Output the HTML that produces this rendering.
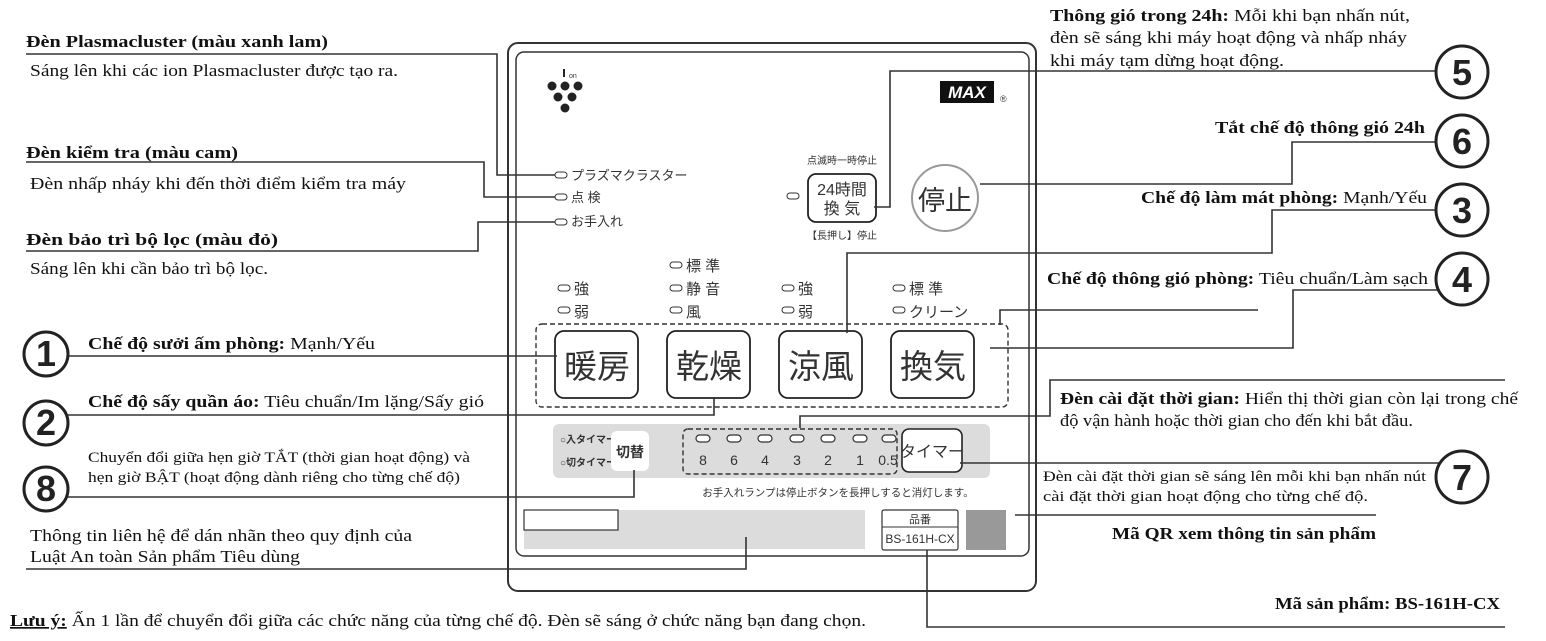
<!DOCTYPE html>
<html><head><meta charset="utf-8"><style>
html,body{margin:0;padding:0;background:#fff;}
svg{display:block;}
.t{font-family:"Liberation Serif","Noto Serif CJK SC",serif;font-size:17px;fill:#111;}
.b{font-weight:bold;}
.j{font-family:"Liberation Sans","Noto Sans CJK JP",sans-serif;fill:#333;}
.n{font-family:"Liberation Sans",sans-serif;font-weight:bold;font-size:36px;fill:#222;text-anchor:middle;}
</style></head><body>
<svg width="1546" height="641" viewBox="0 0 1546 641" xmlns="http://www.w3.org/2000/svg">
<rect x="508" y="43" width="528" height="548" rx="10" fill="#fff" stroke="#333" stroke-width="2"/>
<rect x="516" y="52" width="513" height="504" rx="8" fill="#fff" stroke="#333" stroke-width="1.5"/>
<g fill="#222"><circle cx="552" cy="86" r="4.5"/><circle cx="565" cy="86" r="4.5"/><circle cx="578" cy="86" r="4.5"/><circle cx="558" cy="97" r="4.5"/><circle cx="572" cy="97" r="4.5"/><circle cx="565" cy="108" r="4.5"/><rect x="563" y="69" width="2" height="8"/></g>
<text x="569" y="78" class="j" font-size="7">on</text>
<rect x="940" y="81" width="54" height="22" fill="#111"/>
<text x="967" y="98" font-family="Liberation Sans" font-weight="bold" font-style="italic" font-size="17" fill="#fff" text-anchor="middle">MAX</text>
<text x="1000" y="102" class="j" font-size="9">®</text>
<g fill="#fff" stroke="#333" stroke-width="1">
<rect x="555" y="172" width="12" height="6" rx="3"/><rect x="555" y="194" width="12" height="6" rx="3"/><rect x="555" y="219" width="12" height="6" rx="3"/>
<rect x="787" y="193" width="12" height="6" rx="3"/>
<rect x="558" y="285" width="12" height="6" rx="3"/><rect x="558" y="307" width="12" height="6" rx="3"/>
<rect x="670" y="262" width="12" height="6" rx="3"/><rect x="670" y="285" width="12" height="6" rx="3"/><rect x="670" y="307" width="12" height="6" rx="3"/>
<rect x="782" y="285" width="12" height="6" rx="3"/><rect x="782" y="307" width="12" height="6" rx="3"/>
<rect x="893" y="285" width="12" height="6" rx="3"/><rect x="893" y="307" width="12" height="6" rx="3"/>
</g>
<g class="j" font-size="13">
<text x="571" y="180">プラズマクラスター</text><text x="571" y="202">点 検</text><text x="571" y="226">お手入れ</text>
<text x="574" y="294" font-size="15">強</text><text x="574" y="317" font-size="15">弱</text>
<text x="686" y="271" font-size="15">標 準</text><text x="686" y="294" font-size="15">静 音</text><text x="686" y="317" font-size="15">風</text>
<text x="798" y="294" font-size="15">強</text><text x="798" y="317" font-size="15">弱</text>
<text x="909" y="294" font-size="15">標 準</text><text x="909" y="317" font-size="15">クリーン</text>
</g>
<text x="842" y="164" class="j" font-size="10" text-anchor="middle">点滅時一時停止</text>
<rect x="808" y="174" width="68" height="48" rx="8" fill="#fff" stroke="#222" stroke-width="1.8"/>
<text x="842" y="195" class="j" font-size="16" text-anchor="middle">24時間</text>
<text x="842" y="214" class="j" font-size="16" text-anchor="middle">換 気</text>
<text x="842" y="239" class="j" font-size="10" text-anchor="middle">【長押し】停止</text>
<circle cx="945" cy="198" r="33" fill="#fff" stroke="#999" stroke-width="2"/>
<text x="945" y="210" class="j" font-size="27" text-anchor="middle">停止</text>
<rect x="536" y="324" width="472" height="83" rx="6" fill="none" stroke="#333" stroke-width="1.4" stroke-dasharray="5,3"/>
<g fill="#fff" stroke="#222" stroke-width="1.8">
<rect x="555" y="331" width="83" height="67" rx="9"/><rect x="667" y="331" width="83" height="67" rx="9"/><rect x="779" y="331" width="83" height="67" rx="9"/><rect x="891" y="331" width="83" height="67" rx="9"/>
</g>
<g class="j" font-size="33" text-anchor="middle">
<text x="597" y="378">暖房</text><text x="709" y="378">乾燥</text><text x="821" y="378">涼風</text><text x="933" y="378">換気</text>
</g>
<rect x="553" y="424" width="437" height="54" rx="6" fill="#dcdcdc"/>
<text x="560" y="443" class="j" font-size="10" font-weight="bold">○入タイマー</text>
<text x="560" y="466" class="j" font-size="10" font-weight="bold">○切タイマー</text>
<rect x="611" y="431" width="38" height="40" rx="6" fill="#fff"/>
<text x="630" y="457" class="j" font-size="14" font-weight="bold" text-anchor="middle">切替</text>
<rect x="683" y="429" width="214" height="45" rx="5" fill="none" stroke="#333" stroke-width="1.4" stroke-dasharray="5,3"/>
<g fill="#fff" stroke="#333" stroke-width="1.2">
<rect x="696" y="435" width="14" height="7" rx="3.5"/><rect x="727" y="435" width="14" height="7" rx="3.5"/><rect x="758" y="435" width="14" height="7" rx="3.5"/><rect x="790" y="435" width="14" height="7" rx="3.5"/><rect x="821" y="435" width="14" height="7" rx="3.5"/><rect x="853" y="435" width="14" height="7" rx="3.5"/><rect x="882" y="435" width="14" height="7" rx="3.5"/>
</g>
<g class="j" font-size="14" text-anchor="middle">
<text x="703" y="465">8</text><text x="734" y="465">6</text><text x="765" y="465">4</text><text x="797" y="465">3</text><text x="828" y="465">2</text><text x="860" y="465">1</text><text x="888" y="465">0.5</text>
</g>
<rect x="902" y="429" width="60" height="43" rx="7" fill="#fff" stroke="#222" stroke-width="1.6"/>
<text x="932" y="457" class="j" font-size="16" text-anchor="middle">タイマー</text>
<text x="838" y="496" class="j" font-size="10.5" text-anchor="middle">お手入れランプは停止ボタンを長押しすると消灯します。</text>
<rect x="524" y="510" width="341" height="39" fill="#dcdcdc"/>
<rect x="524" y="510" width="94" height="20" fill="#fff" stroke="#333" stroke-width="1.2"/>
<rect x="882" y="510" width="76" height="40" rx="2" fill="#fff" stroke="#333" stroke-width="1.2"/>
<line x1="882" y1="527" x2="958" y2="527" stroke="#333"/>
<text x="920" y="523" class="j" font-size="11" text-anchor="middle">品番</text>
<text x="920" y="543" class="j" font-size="12" text-anchor="middle">BS-161H-CX</text>
<rect x="966" y="510" width="40" height="40" fill="#999"/>
<g fill="none" stroke="#333" stroke-width="1.6">
<path d="M26 54 H497 V175 H555"/>
<path d="M26 162 H484 V197 H555"/>
<path d="M26 251 H478 V222 H555"/>
<path d="M68 356 H557"/>
<path d="M68 415 H714 V397"/>
<path d="M68 497 H634 V470"/>
<path d="M26 569 H746 V537"/>
<path d="M874 207 H890 V71 H1440"/>
<path d="M980 184 H1292 V142 H1440"/>
<path d="M847 333 V253 H1272 V210 H1440"/>
<path d="M990 348 H1293 V290 H1440"/>
<path d="M1000 325 V310 H1258"/>
<path d="M800 428 V416 H1050 V380 H1505"/>
<path d="M960 463 H1440"/>
<path d="M1015 515 H1376"/>
<path d="M927 550 V627 H1505"/>
</g>
<g fill="#fff" stroke="#222" stroke-width="3">
<circle cx="46" cy="354" r="22"/><circle cx="46" cy="423" r="22"/><circle cx="46" cy="489" r="22"/>
<circle cx="1462" cy="72" r="26"/><circle cx="1462" cy="141" r="26"/><circle cx="1462" cy="210" r="26"/><circle cx="1462" cy="279" r="26"/><circle cx="1462" cy="477" r="26"/>
</g>
<g class="n" font-size="32">
<text x="46" y="366">1</text><text x="46" y="435">2</text><text x="46" y="501">8</text>
</g>
<g class="n">
<text x="1462" y="85">5</text><text x="1462" y="154">6</text><text x="1462" y="223">3</text><text x="1462" y="292">4</text><text x="1462" y="490">7</text>
</g>
<g class="t">
<text x="26" y="47" class="b" textLength="302" lengthAdjust="spacingAndGlyphs">Đèn Plasmacluster (màu xanh lam)</text>
<text x="30" y="76" textLength="368" lengthAdjust="spacingAndGlyphs">Sáng lên khi các ion Plasmacluster được tạo ra.</text>
<text x="26" y="158" class="b" textLength="212" lengthAdjust="spacingAndGlyphs">Đèn kiểm tra (màu cam)</text>
<text x="30" y="189" textLength="376" lengthAdjust="spacingAndGlyphs">Đèn nhấp nháy khi đến thời điểm kiểm tra máy</text>
<text x="26" y="245" class="b" textLength="252" lengthAdjust="spacingAndGlyphs">Đèn bảo trì bộ lọc (màu đỏ)</text>
<text x="30" y="274" textLength="238" lengthAdjust="spacingAndGlyphs">Sáng lên khi cần bảo trì bộ lọc.</text>
<text x="88" y="349" textLength="287" lengthAdjust="spacingAndGlyphs"><tspan class="b">Chế độ sưởi ấm phòng:</tspan> Mạnh/Yếu</text>
<text x="88" y="407" textLength="396" lengthAdjust="spacingAndGlyphs"><tspan class="b">Chế độ sấy quần áo:</tspan> Tiêu chuẩn/Im lặng/Sấy gió</text>
<text x="88" y="462" font-size="15" textLength="382" lengthAdjust="spacingAndGlyphs">Chuyển đổi giữa hẹn giờ TẮT (thời gian hoạt động) và</text>
<text x="88" y="482" font-size="15" textLength="372" lengthAdjust="spacingAndGlyphs">hẹn giờ BẬT (hoạt động dành riêng cho từng chế độ)</text>
<text x="30" y="541" textLength="382" lengthAdjust="spacingAndGlyphs">Thông tin liên hệ để dán nhãn theo quy định của</text>
<text x="30" y="562" textLength="270" lengthAdjust="spacingAndGlyphs">Luật An toàn Sản phẩm Tiêu dùng</text>
<text x="10" y="626" textLength="856" lengthAdjust="spacingAndGlyphs"><tspan class="b" text-decoration="underline">Lưu ý:</tspan> Ấn 1 lần để chuyển đổi giữa các chức năng của từng chế độ. Đèn sẽ sáng ở chức năng bạn đang chọn.</text>
<text x="1050" y="21" textLength="360" lengthAdjust="spacingAndGlyphs"><tspan class="b">Thông gió trong 24h:</tspan> Mỗi khi bạn nhấn nút,</text>
<text x="1050" y="43" textLength="357" lengthAdjust="spacingAndGlyphs">đèn sẽ sáng khi máy hoạt động và nhấp nháy</text>
<text x="1050" y="66" textLength="234" lengthAdjust="spacingAndGlyphs">khi máy tạm dừng hoạt động.</text>
<text x="1215" y="133" class="b" textLength="210" lengthAdjust="spacingAndGlyphs">Tắt chế độ thông gió 24h</text>
<text x="1141" y="203" textLength="286" lengthAdjust="spacingAndGlyphs"><tspan class="b">Chế độ làm mát phòng:</tspan> Mạnh/Yếu</text>
<text x="1047" y="284" textLength="381" lengthAdjust="spacingAndGlyphs"><tspan class="b">Chế độ thông gió phòng:</tspan> Tiêu chuẩn/Làm sạch</text>
<text x="1060" y="404" textLength="458" lengthAdjust="spacingAndGlyphs"><tspan class="b">Đèn cài đặt thời gian:</tspan> Hiển thị thời gian còn lại trong chế</text>
<text x="1060" y="426" textLength="353" lengthAdjust="spacingAndGlyphs">độ vận hành hoặc thời gian cho đến khi bắt đầu.</text>
<text x="1043" y="481" font-size="15" textLength="383" lengthAdjust="spacingAndGlyphs">Đèn cài đặt thời gian sẽ sáng lên mỗi khi bạn nhấn nút</text>
<text x="1043" y="501" font-size="15" textLength="325" lengthAdjust="spacingAndGlyphs">cài đặt thời gian hoạt động cho từng chế độ.</text>
<text x="1112" y="539" class="b" textLength="264" lengthAdjust="spacingAndGlyphs">Mã QR xem thông tin sản phẩm</text>
<text x="1275" y="609" class="b" textLength="225" lengthAdjust="spacingAndGlyphs">Mã sản phẩm: BS-161H-CX</text>
</g>
</svg>
</body></html>
